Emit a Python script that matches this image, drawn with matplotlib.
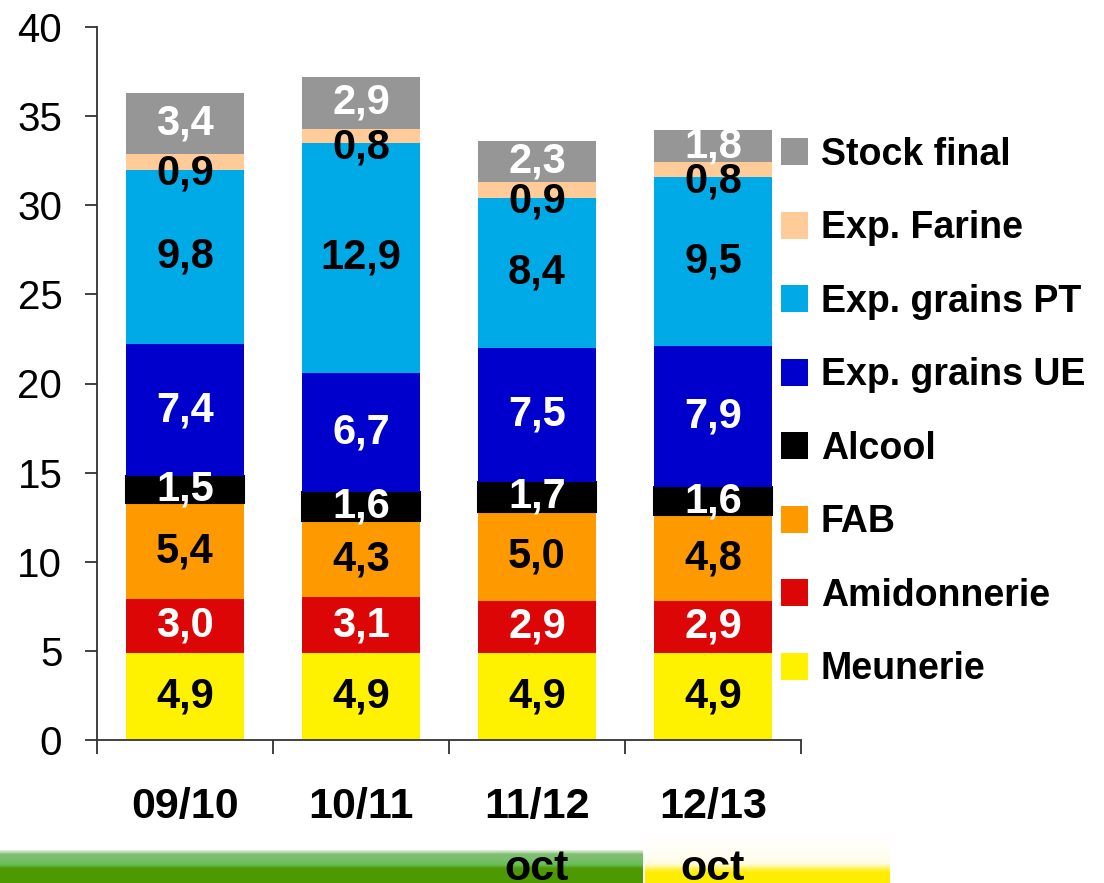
import numpy as np
import matplotlib.pyplot as plt
from matplotlib.patches import Patch

plt.rcParams['font.family'] = ['Liberation Sans', 'DejaVu Sans']

# campagnes
campagnes = ['09/10', '10/11', '11/12\noct', '12/13\noct']

# postes d'utilisation (Mt), du bas vers le haut
meunerie = [4.9, 4.9, 4.9, 4.9]
amidonnerie = [3.0, 3.1, 2.9, 2.9]
fab = [5.4, 4.3, 5.0, 4.8]
alcool = [1.5, 1.6, 1.7, 1.6]
exp_ue = [7.4, 6.7, 7.5, 7.9]
exp_pt = [9.8, 12.9, 8.4, 9.5]
exp_farine = [0.9, 0.8, 0.9, 0.8]
stock_final = [3.4, 2.9, 2.3, 1.8]

series = [
    ('Meunerie', meunerie, '#FFF200', 'black'),
    ('Amidonnerie', amidonnerie, '#DD0606', 'white'),
    ('FAB', fab, '#FF9900', 'black'),
    ('Alcool', alcool, '#000000', 'white'),
    ('Exp. grains UE', exp_ue, '#0000CC', 'white'),
    ('Exp. grains PT', exp_pt, '#00AAE6', 'black'),
    ('Exp. Farine', exp_farine, '#FFCC99', 'black'),
    ('Stock final', stock_final, '#969696', 'white'),
]

fig = plt.figure(figsize=(11.04, 8.83), dpi=100)

# bandeau en bas de page (degrade vert puis jaune), coordonnees en pixels
band = fig.add_axes([0, 0, 1, 60 / 883], zorder=0)
band.set_xlim(0, 1104)
band.set_ylim(0, 60)
band.axis('off')


def bande(stops, n=80):
    # stops : (position depuis le haut 0..1, (r, g, b, a))
    t = np.linspace(0, 1, n)
    pos = [s[0] for s in stops]
    rgba = np.stack([np.interp(t, pos, [s[1][k] for s in stops]) for k in range(4)], axis=1)
    return np.repeat(rgba[:, None, :], 2, axis=1)


vert = bande([(0.0, (0.80, 0.90, 0.78, 0.6)),
              (0.12, (0.50, 0.74, 0.44, 1.0)),
              (0.30, (0.47, 0.75, 0.42, 1.0)),
              (0.45, (0.40, 0.74, 0.33, 1.0)),
              (0.55, (0.31, 0.60, 0.02, 1.0)),
              (1.0, (0.30, 0.60, 0.0, 1.0))])
band.imshow(vert, extent=[0, 643, 0, 33], aspect='auto', interpolation='bilinear')

jaune = bande([(0.0, (1.0, 1.0, 0.9, 0.0)),
               (0.6, (1.0, 0.97, 0.6, 0.25)),
               (0.72, (1.0, 0.94, 0.2, 0.9)),
               (0.80, (1.0, 0.93, 0.0, 1.0)),
               (1.0, (1.0, 0.93, 0.0, 1.0))])
band.imshow(jaune, extent=[645, 890, 0, 50], aspect='auto', interpolation='bilinear')

ax = fig.add_axes([97 / 1104, 1 - 740 / 883, 704 / 1104, 713 / 883], zorder=1)
ax.patch.set_alpha(0)

x = np.arange(len(campagnes))
bottom = np.zeros(len(campagnes))
handles = []
for name, vals, color, tcol in series:
    vals = np.array(vals)
    lw = 1.5 if name == 'Alcool' else 0
    ax.bar(x, vals, 0.67, bottom=bottom, color=color, edgecolor='black', linewidth=lw)
    for i, v in enumerate(vals):
        yc = bottom[i] + v / 2
        if name == 'Exp. Farine':
            yc -= 0.65
        ax.text(x[i], yc, f'{v:.1f}'.replace('.', ','), ha='center', va='center',
                color=tcol, fontsize=30, fontweight='bold')
    bottom += vals
    handles.append(Patch(facecolor=color, label=name))

ax.set_xlim(-0.5, 3.5)
ax.set_ylim(0, 40)
ax.set_yticks(np.arange(0, 41, 5))
ax.tick_params(axis='y', labelsize=29, length=9, width=1.3, pad=16, color='#333333')
ax.set_xticks(x)
ax.set_xticklabels(campagnes, fontsize=31, fontweight='bold')
for lab in ax.get_xticklabels():
    lab.set_linespacing(1.7)
ax.tick_params(axis='x', which='major', length=0, pad=34)
ax.set_xticks(np.arange(-0.5, 3.6, 1), minor=True)
ax.tick_params(axis='x', which='minor', length=10, width=1.3, color='#333333')
for s in ['top', 'right']:
    ax.spines[s].set_visible(False)
for s in ['left', 'bottom']:
    ax.spines[s].set_linewidth(1.3)
    ax.spines[s].set_color('#333333')

fig.legend(handles=handles[::-1], loc='upper left', bbox_to_anchor=(747 / 1104, 1 - 103 / 883),
           frameon=False, prop={'size': 27, 'weight': 'bold'}, handlelength=0.72,
           handleheight=0.72, handletextpad=0.35, labelspacing=1.0)

fig.savefig('out.png', dpi=100)
